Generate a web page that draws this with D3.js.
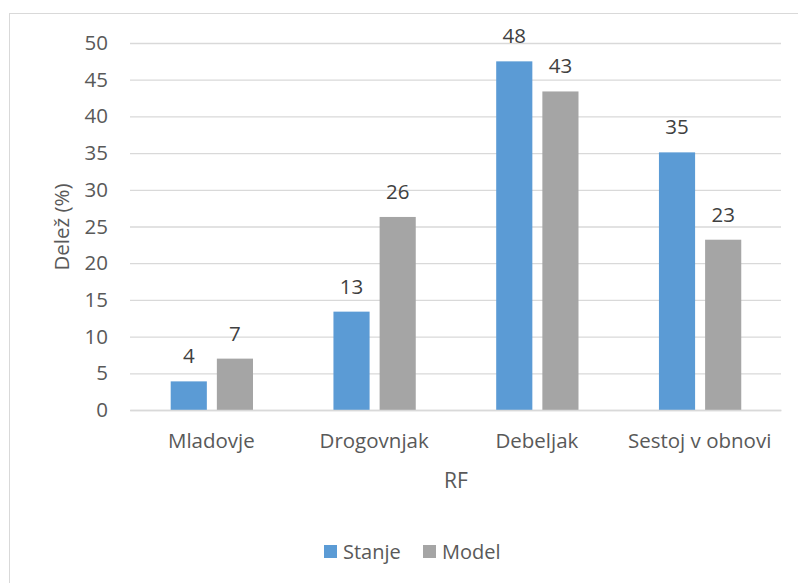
<!DOCTYPE html>
<html>
<head>
<meta charset="utf-8">
<script src="https://cdn.jsdelivr.net/npm/d3@7"></script>
<style>
  body { margin: 0; background: #fff; }
  text { font-family: "Open Sans", "Noto Sans", sans-serif; }
</style>
</head>
<body>
<div id="chart"></div>
<script>
// data
const categories = ["Mladovje", "Drogovnjak", "Debeljak", "Sestoj v obnovi"];
const seriesNames = ["Stanje", "Model"];
const stanje = [3.9, 13.4, 47.5, 35.1];
const model = [7.0, 26.3, 43.4, 23.2];
const yTicks = [0, 5, 10, 15, 20, 25, 30, 35, 40, 45, 50];
const colors = ["#5b9bd5", "#a5a5a5"];

const W = 798, H = 583;
const margin = {top: 43, left: 130, right: 17, bottom: 173};
const width = W - margin.left - margin.right,
      height = H - margin.top - margin.bottom;
const fs = 20.5;

const svg = d3.select("#chart").append("svg")
  .attr("width", W).attr("height", H);

// outer chart border
svg.append("rect")
  .attr("x", 9.5).attr("y", 13.5)
  .attr("width", W).attr("height", H)
  .attr("fill", "none").attr("stroke", "#d9d9d9");

const x0 = d3.scaleBand().domain(categories).range([0, width]);
const x1 = d3.scaleBand().domain(seriesNames).range([40.7, 123]).paddingInner(0.217);
const y = d3.scaleLinear().domain([0, 50]).range([height, 0]);

const g = svg.append("g").attr("transform", `translate(${margin.left},${margin.top})`);

// gridlines + y ticks
const yAxis = g.append("g")
  .call(d3.axisLeft(y).tickValues(yTicks).tickSize(-width).tickPadding(22));
yAxis.select(".domain").remove();
yAxis.selectAll(".tick line").attr("stroke", "#d9d9d9").attr("stroke-width", 1.3);
yAxis.selectAll(".tick text").attr("fill", "#595959").style("font-size", fs + "px");

const rows = categories.map((c, i) => ({cat: c, vals: [stanje[i], model[i]]}));

const groups = g.selectAll(".grp").data(rows).enter().append("g")
  .attr("transform", d => `translate(${x0(d.cat)},0)`);

groups.selectAll("rect")
  .data(d => d.vals.map((v, j) => ({name: seriesNames[j], v: v, j: j})))
  .enter().append("rect")
  .attr("x", d => x1(d.name))
  .attr("width", x1.bandwidth())
  .attr("y", d => y(d.v))
  .attr("height", d => y(0) - y(d.v))
  .attr("fill", d => colors[d.j]);

groups.selectAll(".lbl")
  .data(d => d.vals.map((v, j) => ({name: seriesNames[j], v: v})))
  .enter().append("text")
  .attr("x", d => x1(d.name) + x1.bandwidth() / 2)
  .attr("y", d => y(d.v) - 18)
  .attr("text-anchor", "middle")
  .attr("fill", "#404040")
  .style("font-size", fs + "px")
  .text(d => Math.round(d.v));

// x axis
const xAxis = g.append("g").attr("transform", `translate(0,${height})`)
  .call(d3.axisBottom(x0).tickSize(0).tickPadding(23));
xAxis.select(".domain").attr("stroke", "#d9d9d9").attr("stroke-width", 1.3);
xAxis.selectAll(".tick text").attr("fill", "#595959").style("font-size", fs + "px");

// axis titles
svg.append("text")
  .attr("transform", "translate(69,227) rotate(-90)")
  .attr("text-anchor", "middle")
  .attr("fill", "#595959")
  .style("font-size", "20.5px")
  .text("Delež (%)");

svg.append("text")
  .attr("x", 456).attr("y", 488)
  .attr("text-anchor", "middle")
  .attr("fill", "#595959")
  .style("font-size", "21px")
  .text("RF");

// legend
const legX = [324, 423];
const leg = svg.selectAll(".leg").data(seriesNames).enter().append("g")
  .attr("transform", (d, i) => `translate(${legX[i]},545)`);
leg.append("rect").attr("width", 13).attr("height", 13).attr("fill", (d, i) => colors[i]);
leg.append("text").attr("x", 19).attr("y", 13.5)
  .attr("fill", "#595959").style("font-size", "20px").text(d => d);
</script>
</body>
</html>
